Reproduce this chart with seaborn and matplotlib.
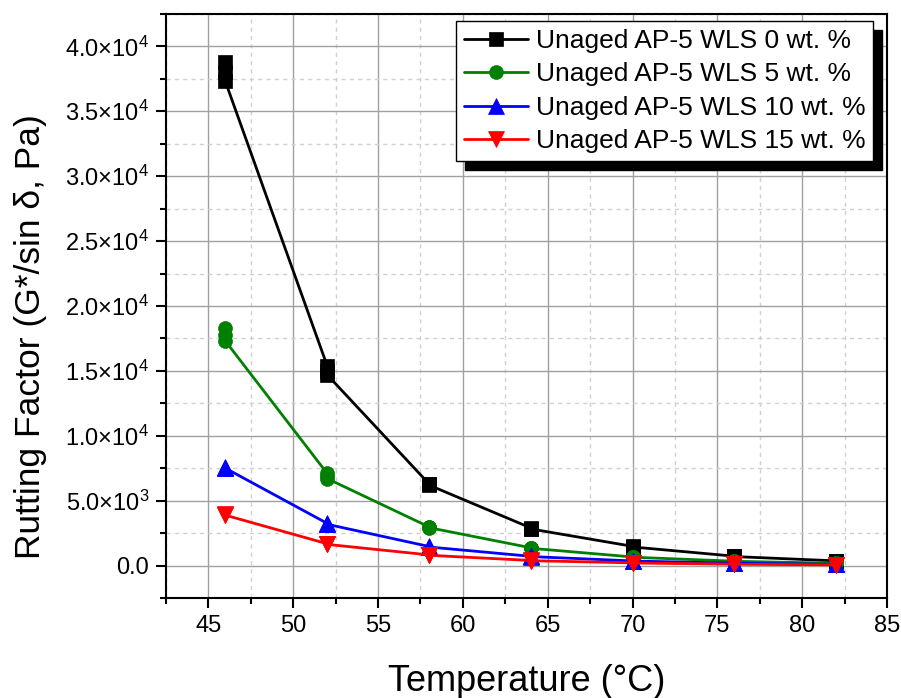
import numpy as np
import pandas as pd
import matplotlib
matplotlib.use("Agg")
import matplotlib.pyplot as plt
import seaborn as sns
from matplotlib.ticker import MultipleLocator, FuncFormatter

# ---- data (three replicate readings per temperature, in measurement order) ----
temperature = [46, 46, 46, 52, 52, 52, 58, 58, 58, 64, 64, 64,
               70, 70, 70, 76, 76, 76, 82, 82, 82]
wls_0 = [38800, 38000, 37300, 15400, 15000, 14700, 6300, 6250, 6200,
         2900, 2850, 2820, 1480, 1450, 1430, 720, 700, 690, 360, 350, 345]
wls_5 = [18300, 17800, 17300, 7100, 6900, 6700, 2980, 2950, 2920,
         1370, 1350, 1330, 660, 650, 640, 335, 330, 325, 175, 170, 165]
wls_10 = [7600, 7550, 7500, 3250, 3200, 3180, 1470, 1450, 1430,
          710, 700, 690, 355, 350, 345, 185, 180, 175, 92, 90, 88]
wls_15 = [3950, 3900, 3880, 1680, 1650, 1630, 820, 800, 790,
          390, 380, 375, 205, 200, 195, 105, 100, 98, 52, 50, 48]
labels = ["Unaged AP-5 WLS 0 wt. %", "Unaged AP-5 WLS 5 wt. %",
          "Unaged AP-5 WLS 10 wt. %", "Unaged AP-5 WLS 15 wt. %"]
series = [wls_0, wls_5, wls_10, wls_15]

colors = ["#000000", "#008000", "#0000ff", "#ff0000"]
markers = ["s", "o", "^", "v"]
msizes = [9.5, 10, 11, 11]

sns.set_theme(style="white")
plt.rcParams["font.family"] = ["Liberation Sans", "DejaVu Sans"]
plt.rcParams["mathtext.fontset"] = "custom"
plt.rcParams["mathtext.rm"] = "Liberation Sans"
plt.rcParams["mathtext.it"] = "Liberation Sans:italic"
plt.rcParams["mathtext.bf"] = "Liberation Sans:bold"
for k in ["text.color", "axes.labelcolor", "xtick.color", "ytick.color"]:
    plt.rcParams[k] = "black"

fig = plt.figure(figsize=(9.01, 6.98), dpi=100)
ax = fig.add_axes([0.1842, 0.1433, 0.8003, 0.8367])

for lab, vals, c, m, ms in zip(labels, series, colors, markers, msizes):
    df = pd.DataFrame({"T": temperature, "G": vals})
    sns.lineplot(data=df, x="T", y="G", color=c, marker=m, markersize=ms,
                 markeredgecolor=c, markeredgewidth=0.5, linewidth=2.0,
                 estimator=None, sort=False, label=lab, ax=ax)

ax.set_xlim(42.5, 85)
ax.set_ylim(-2500, 42500)
ax.xaxis.set_major_locator(MultipleLocator(5))
ax.xaxis.set_minor_locator(MultipleLocator(2.5))
ax.yaxis.set_major_locator(MultipleLocator(5000))
ax.yaxis.set_minor_locator(MultipleLocator(2500))


def sci(v, pos):
    if abs(v) < 1e-9:
        return "0.0"
    e = int(np.floor(np.log10(abs(v))))
    m = v / 10 ** e
    return r"$%.1f{\times}10^{%d}$" % (m, e)


ax.yaxis.set_major_formatter(FuncFormatter(sci))

ax.set_axisbelow(True)
ax.grid(which="major", color="#a0a0a0", linewidth=1.0, linestyle="-")
ax.grid(which="minor", color="#d0d0d0", linewidth=1.0, linestyle=(0, (3, 3)))

for s in ax.spines.values():
    s.set_visible(True)
    s.set_color("black")
    s.set_linewidth(1.5)

ax.tick_params(which="both", direction="out", top=False, right=False,
               left=True, bottom=True, width=1.5, color="black")
ax.tick_params(which="major", length=7, labelsize=17, pad=5)
ax.tick_params(which="minor", length=4)

ax.set_xlabel("Temperature (\u00b0C)", fontsize=26, labelpad=20)
ax.set_ylabel("Rutting Factor (G*/sin \u03b4, Pa)", fontsize=25.5)
ax.yaxis.set_label_coords(-0.165, 0.447)

leg = ax.legend(loc="upper right", bbox_to_anchor=(0.9806, 0.988),
                fontsize=19, frameon=True, fancybox=False, framealpha=1,
                edgecolor="black", borderpad=0.3, labelspacing=0.36,
                handlelength=2.4, handletextpad=0.3, borderaxespad=0,
                shadow={"ox": 6.5, "oy": -6.5, "facecolor": "black",
                        "edgecolor": "black", "alpha": 1})
leg.get_frame().set_linewidth(1.0)

fig.savefig("out.png", dpi=100)
